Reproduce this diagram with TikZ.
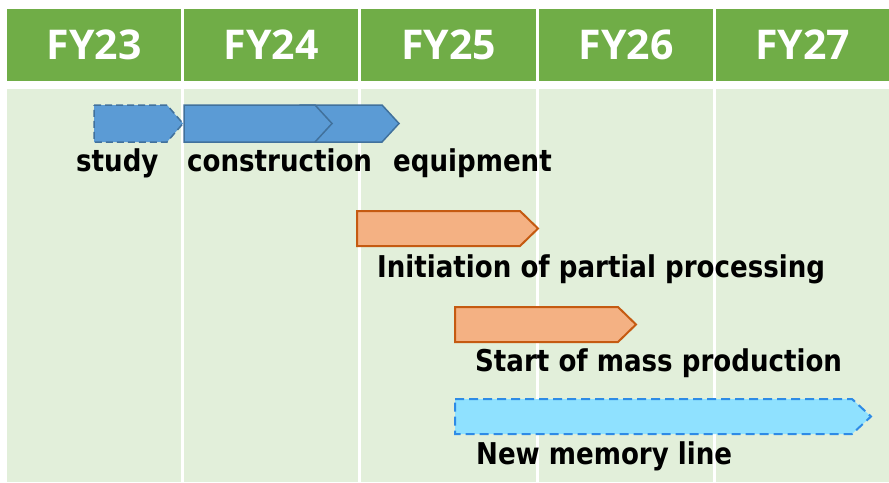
\documentclass[tikz,border=0pt]{standalone}
\usepackage{fontspec}
\newfontfamily\hdrfont{Open Sans}
\newfontfamily\lblfont[FakeStretch=0.87]{DejaVu Sans}
\definecolor{hdrgreen}{HTML}{70AD47}
\definecolor{bodygreen}{HTML}{E2EFDA}
\definecolor{bluefill}{HTML}{5B9BD5}
\definecolor{blueline}{HTML}{41719C}
\definecolor{orfill}{HTML}{F4B183}
\definecolor{orline}{HTML}{C55A11}
\definecolor{cyfill}{HTML}{8FE1FF}
\definecolor{cyline}{HTML}{2E8BE6}
\tikzset{
  hdr/.style={text=white,font=\hdrfont\bfseries\fontsize{41}{41}\selectfont,inner sep=0pt},
  lbl/.style={text=black,font=\lblfont\bfseries\fontsize{30}{30}\selectfont,inner sep=0pt,anchor=base west},
  bluebar/.style={fill=bluefill,draw=blueline,line width=1.5pt,line join=miter},
  orbar/.style={fill=orfill,draw=orline,line width=2pt,line join=miter},
  cybar/.style={fill=cyfill,draw=cyline,line width=2pt,dash pattern=on 9pt off 5pt},
  sep/.style={white,line width=3pt}
}
\begin{document}
\begin{tikzpicture}[x=1pt,y=-1pt]
\useasboundingbox (0,0) rectangle (889,482);
\fill[white] (0,0) rectangle (889,482);
\fill[bodygreen] (7,89) rectangle (889,482);
\foreach \a/\b/\t in {7/181/FY23,184/358/FY24,361/536/FY25,539/713/FY26,716/889/FY27}{
  \fill[hdrgreen] (\a,9) rectangle (\b,81);
  \node[hdr,name=h\t] at ({(\a+\b)/2},45) {\t};
}
\foreach \x in {182.5,359.5,537.5,714.5}{
  \draw[sep] (\x,89) -- (\x,482);
}
% blue arrows
\path[bluebar,dash pattern=on 7pt off 4pt] (94,105) -- (167,105) -- (183,123.5) -- (167,142) -- (94,142) -- cycle;
\path[bluebar] (300,105) -- (382,105) -- (399,123.5) -- (382,142) -- (300,142) -- cycle;
\path[bluebar] (184,105) -- (315,105) -- (332,123.5) -- (315,142) -- (184,142) -- cycle;
% orange arrows
\path[orbar] (357,211) -- (520,211) -- (538,228.5) -- (520,246) -- (357,246) -- cycle;
\path[orbar] (455,307) -- (618,307) -- (636,324.5) -- (618,342) -- (455,342) -- cycle;
% cyan arrow
\path[cybar] (455,399) -- (852,399) -- (871,416.5) -- (852,434) -- (455,434) -- cycle;
% labels
\node[lbl] (study) at (76,171) {study};
\node[lbl] (constr) at (187,171) {construction};
\node[lbl] (equip) at (393,171) {equipment};
\node[lbl] (init) at (377,277) {Initiation of partial processing};
\node[lbl] (mass) at (475,371) {Start of mass production};
\node[lbl] (mem) at (476,464) {New memory line};
\end{tikzpicture}
\end{document}
